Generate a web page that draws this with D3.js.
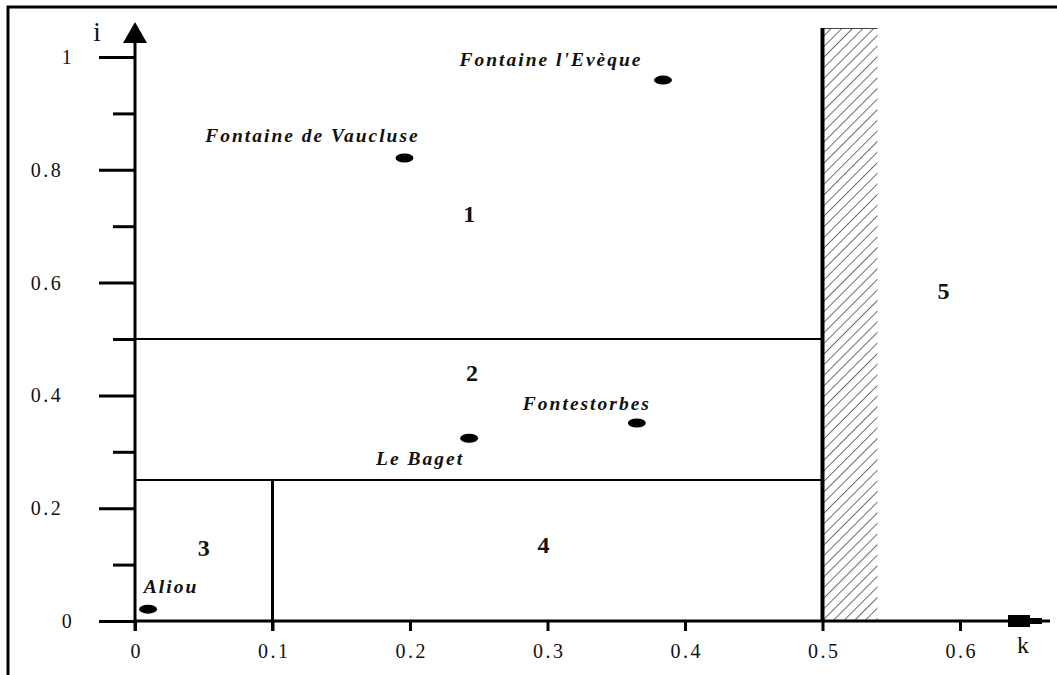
<!DOCTYPE html>
<html lang="en">
<head>
    <meta charset="UTF-8">
    <title>Classification of karst springs (k, i)</title>
    <script src="https://d3js.org/d3.v7.min.js"></script>
    <style>
        body { margin: 0; background-color: #fff; }
        svg text { font-family: "Liberation Serif", "Times New Roman", Times, "DejaVu Serif", serif; fill: #111; }
        .tick-label { font-size: 20px; letter-spacing: 2.5px; }
        .spring-label { font-size: 19.5px; font-weight: bold; font-style: italic; letter-spacing: 2px; }
        .region-label { font-size: 24px; font-weight: bold; }
        .axis-name { font-size: 24px; }
    </style>
</head>
<body>
    <div id="chart"></div>
    <script type="text/javascript">
        const serif = "'Liberation Serif', 'Times New Roman', Times, serif";

        // springs: k (x) and i (y)
        const springNames = ["Aliou", "Fontaine de Vaucluse", "Fontaine l'Evèque", "Le Baget", "Fontestorbes"];
        const springK = [0.0095, 0.196, 0.384, 0.243, 0.365];
        const springI = [0.021, 0.821, 0.959, 0.324, 0.351];

        // numbered domains of the diagram
        const regionNames = ["1", "2", "3", "4", "5"];
        const regionK = [0.243, 0.245, 0.05, 0.297, 0.588];
        const regionI = [0.723, 0.44, 0.13, 0.135, 0.586];

        // boundaries
        const iLimitHigh = 0.5;
        const iLimitLow = 0.25;
        const kLimitLow = 0.1;
        const kLimitHigh = 0.5;
        const kHatchEnd = 0.54;

        const kTicks = [0, 0.1, 0.2, 0.3, 0.4, 0.5, 0.6];
        const kTickLabels = ["0", "0.1", "0.2", "0.3", "0.4", "0.5", "0.6"];
        const iTicks = [0, 0.1, 0.2, 0.3, 0.4, 0.5, 0.6, 0.7, 0.8, 0.9, 1];
        const iTickLabels = ["0", "", "0.2", "", "0.4", "", "0.6", "", "0.8", "", "1"];

        // label placement relative to each spring marker (px)
        const labelOffset = {
            "Aliou": [23, -16],
            "Fontaine de Vaucluse": [-92, -16],
            "Fontaine l'Evèque": [-112, -14],
            "Le Baget": [-49, 27],
            "Fontestorbes": [-50, -13]
        };

        const W = 1057, H = 675;
        const x = d3.scaleLinear().domain([0, 0.6]).range([135, 960]);
        const y = d3.scaleLinear().domain([0, 1]).range([621, 57]);

        const svg = d3.select("#chart").append("svg")
            .attr("width", W)
            .attr("height", H)
            .attr("font-family", serif);

        // hatch pattern
        const defs = svg.append("defs");
        defs.append("pattern")
            .attr("id", "hatch")
            .attr("patternUnits", "userSpaceOnUse")
            .attr("width", 7.5)
            .attr("height", 8)
            .attr("patternTransform", "rotate(45)")
            .append("line")
            .attr("x1", 0).attr("y1", 0)
            .attr("x2", 0).attr("y2", 8)
            .attr("stroke", "#111")
            .attr("stroke-width", 1.2);

        // outer frame (top + left only)
        svg.append("path")
            .attr("d", "M8,675V7H1057")
            .attr("fill", "none")
            .attr("stroke", "#000")
            .attr("stroke-width", 3);

        // hatched strip
        svg.append("rect")
            .attr("x", x(kLimitHigh))
            .attr("y", 28)
            .attr("width", x(kHatchEnd) - x(kLimitHigh))
            .attr("height", y(0) - 28)
            .attr("fill", "url(#hatch)")
            .attr("stroke", "none");
        svg.append("line")
            .attr("x1", x(kLimitHigh)).attr("x2", x(kHatchEnd))
            .attr("y1", 28.5).attr("y2", 28.5)
            .attr("stroke", "#444").attr("stroke-width", 1);

        // boundary lines
        svg.append("line")
            .attr("x1", x(0)).attr("x2", x(kLimitHigh))
            .attr("y1", y(iLimitHigh)).attr("y2", y(iLimitHigh))
            .attr("stroke", "#000").attr("stroke-width", 2);
        svg.append("line")
            .attr("x1", x(0)).attr("x2", x(kLimitHigh))
            .attr("y1", y(iLimitLow)).attr("y2", y(iLimitLow))
            .attr("stroke", "#000").attr("stroke-width", 2);
        svg.append("line")
            .attr("x1", x(kLimitLow)).attr("x2", x(kLimitLow))
            .attr("y1", y(iLimitLow)).attr("y2", y(0) + 10)
            .attr("stroke", "#000").attr("stroke-width", 3);
        svg.append("line")
            .attr("x1", x(kLimitHigh)).attr("x2", x(kLimitHigh))
            .attr("y1", 28).attr("y2", y(0))
            .attr("stroke", "#000").attr("stroke-width", 4);

        // X axis
        const xAxis = svg.append("g")
            .attr("transform", "translate(0," + y(0) + ")")
            .call(d3.axisBottom(x)
                .tickValues(kTicks)
                .tickSize(10)
                .tickPadding(13)
                .tickFormat((d, i) => kTickLabels[i]));
        xAxis.attr("font-family", serif).attr("font-size", null);
        xAxis.select(".domain").remove();
        xAxis.selectAll(".tick line").attr("stroke", "#000").attr("stroke-width", 3);
        xAxis.selectAll(".tick text").attr("class", "tick-label").attr("dx", "0.06em");

        svg.append("line")
            .attr("x1", x(0)).attr("x2", 1010)
            .attr("y1", y(0)).attr("y2", y(0))
            .attr("stroke", "#000").attr("stroke-width", 3);
        // arrow head of k axis
        svg.append("path")
            .attr("d", "M1008,615H1030V618H1042V619.5H1050V622.5H1042V624H1030V627H1008Z")
            .attr("fill", "#000");
        svg.append("text")
            .attr("class", "axis-name")
            .attr("x", 1023).attr("y", 653)
            .attr("text-anchor", "middle")
            .text("k");

        // Y axis
        const yAxis = svg.append("g")
            .attr("transform", "translate(" + x(0) + ",0)")
            .call(d3.axisLeft(y)
                .tickValues(iTicks)
                .tickSize(36)
                .tickPadding(0)
                .tickFormat((d, i) => iTickLabels[i]));
        yAxis.attr("font-family", serif).attr("font-size", null);
        yAxis.select(".domain").remove();
        yAxis.selectAll(".tick line")
            .attr("stroke", "#000")
            .attr("stroke-width", 3)
            .attr("x2", (d, i) => iTickLabels[i] === "" ? -22 : -36);
        yAxis.selectAll(".tick text")
            .attr("class", "tick-label")
            .attr("text-anchor", "middle")
            .attr("x", (d, i) => iTickLabels[i].length > 1 ? -88 : -67);

        svg.append("line")
            .attr("x1", x(0)).attr("x2", x(0))
            .attr("y1", y(0) + 10).attr("y2", 40)
            .attr("stroke", "#000").attr("stroke-width", 3);
        svg.append("path")
            .attr("d", "M" + x(0) + ",22L" + (x(0) + 12) + ",43L" + (x(0) - 12) + ",43Z")
            .attr("fill", "#000");
        svg.append("text")
            .attr("class", "axis-name")
            .attr("x", 97).attr("y", 41)
            .attr("text-anchor", "middle")
            .style("font-size", "27px")
            .text("i");

        // springs
        const springs = springNames.map((n, j) => ({ name: n, k: springK[j], i: springI[j] }));
        svg.selectAll(".spring")
            .data(springs)
            .join("ellipse")
            .attr("class", "spring")
            .attr("cx", d => x(d.k))
            .attr("cy", d => y(d.i))
            .attr("rx", 9)
            .attr("ry", 4.5)
            .attr("fill", "#000");
        svg.selectAll(".spring-label")
            .data(springs)
            .join("text")
            .attr("class", "spring-label")
            .attr("x", d => x(d.k) + labelOffset[d.name][0])
            .attr("y", d => y(d.i) + labelOffset[d.name][1])
            .attr("text-anchor", "middle")
            .text(d => d.name);

        // region numbers
        svg.selectAll(".region-label")
            .data(regionNames)
            .join("text")
            .attr("class", "region-label")
            .attr("x", (d, j) => x(regionK[j]))
            .attr("y", (d, j) => y(regionI[j]))
            .attr("text-anchor", "middle")
            .attr("dy", "0.35em")
            .text(d => d);
    </script>
</body>
</html>
